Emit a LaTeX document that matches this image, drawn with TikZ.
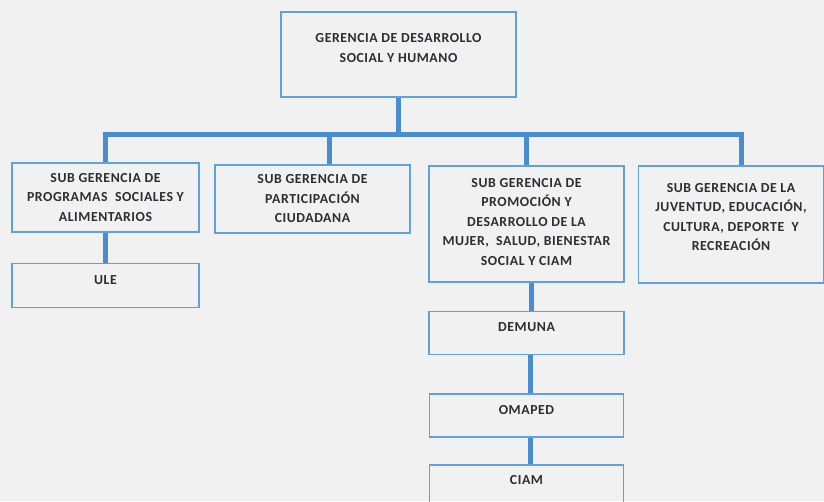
\documentclass[tikz,border=0pt]{standalone}
\usepackage{fontspec}
\setmainfont{Carlito}
\newfontfamily\orgfont[LetterSpace=4]{Carlito}
\usetikzlibrary{positioning}
\definecolor{orgblue}{RGB}{72,140,210}
\definecolor{boxblue}{RGB}{95,160,222}
\definecolor{pagegrey}{RGB}{241,241,241}
\definecolor{inkgrey}{RGB}{45,45,50}
\tikzset{unit node/.style={rectangle,draw=boxblue,line width=1.6pt,inner sep=2pt,align=center,text=inkgrey,font=\orgfont\bfseries\fontsize{13.8}{19.5}\selectfont},
link/.style={orgblue,line width=5pt},
}

\begin{document}
\begin{tikzpicture}[x=1pt,y=-1pt,node distance=28pt]
	\fill[pagegrey] (0,0) rectangle (824,501);
	\useasboundingbox (0,0) rectangle (824,501);
	\node[unit node,minimum width=235pt,minimum height=85pt,text depth=13pt] (top) at (398.5,54.5) {GERENCIA DE DESARROLLO\\SOCIAL Y HUMANO};
	\node[unit node,minimum width=187pt,minimum height=69pt] (sg1) at (105.5,197.5) {SUB GERENCIA DE\\PROGRAMAS\ \ SOCIALES Y\\ALIMENTARIOS};
	\node[unit node,minimum width=195pt,minimum height=68pt] (sg2) at (312.5,199) {SUB GERENCIA DE\\PARTICIPACIÓN\\CIUDADANA};
	\node[unit node,minimum width=195pt,minimum height=116pt,text depth=5pt] (sg3) at (526.5,224) {SUB GERENCIA DE\\PROMOCIÓN Y\\DESARROLLO DE LA\\MUJER,\ \ SALUD, BIENESTAR\\SOCIAL Y CIAM};
	\node[unit node,minimum width=185pt,minimum height=117pt,text depth=15pt] (sg4) at (731,224.5) {SUB GERENCIA DE LA\\JUVENTUD, EDUCACIÓN,\\CULTURA, DEPORTE\ \ Y\\RECREACIÓN};
	\node[unit node,minimum width=187pt,minimum height=44pt,text depth=12pt] (ule)[below=30pt of sg1] {ULE};
	\node[unit node,minimum width=195pt,minimum height=43pt,text depth=12pt] (demuna)[below=28pt of sg3] {DEMUNA};
	\node[unit node,minimum width=194pt,minimum height=43pt,text depth=12pt] (omaped)[below=38pt of demuna] {OMAPED};
	\node[unit node,minimum width=194pt,minimum height=43pt,text depth=12pt] (ciam)[below=26pt of omaped] {CIAM};
	
	\draw[link] (top.south) -- ++(0,37) coordinate (bus);
	\draw[link] (sg1.north) |- (bus) -| ([xshift=10pt]sg4.north);
	\draw[link] ([xshift=16.5pt]sg2.north) -- ([xshift=16.5pt]sg2.north |- bus);
	\draw[link] (sg3.north) -- (sg3.north |- bus);
	\draw[link] (sg1) -- (ule);
	\draw[link] ([xshift=5pt]sg3.south) -- ([xshift=5pt]sg3.south |- demuna.north);
	%\draw[link] (demuna) -- (omaped);
	\draw[link] ([xshift=4pt]demuna.south) -- ([xshift=4pt]demuna.south |- omaped.north);
	\draw[link] ([xshift=4pt]omaped.south) -- ([xshift=4pt]omaped.south |- ciam.north);
\end{tikzpicture}
\end{document}
